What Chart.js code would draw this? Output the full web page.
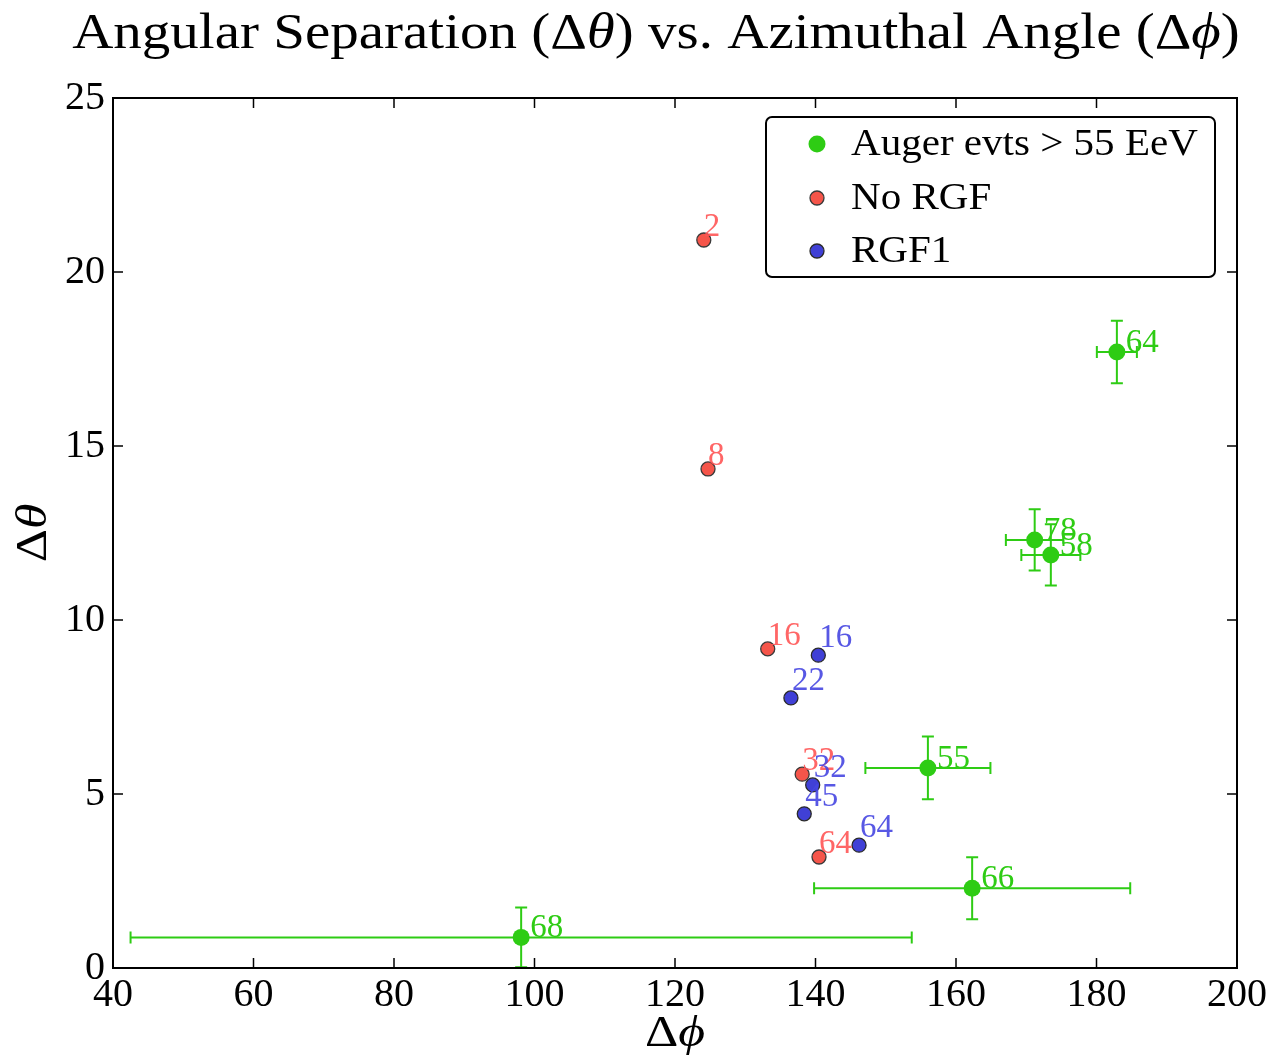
<!DOCTYPE html>
<html>
<head>
<meta charset="utf-8">
<title>Angular Separation vs. Azimuthal Angle</title>
<script src="https://cdn.jsdelivr.net/npm/chart.js@4.4.0/dist/chart.umd.min.js"></script>
<style>
  html, body { margin: 0; padding: 0; background: #fff; }
  canvas { display: block; }
</style>
</head>
<body>
<canvas id="sepChart" width="1270" height="1058"></canvas>
<script>
// Auger events above 55 EeV (with errors)
const augerPhi    = [182.9, 171.2, 173.5, 156.0, 162.3, 98.1];
const augerTheta  = [17.7, 12.3, 11.87, 5.75, 2.29, 0.88];
const augerPhiErr = [2.85, 4.1, 4.2, 8.9, 22.5, 55.6];
const augerThErr  = [0.9, 0.88, 0.88, 0.9, 0.89, 0.86];
const augerLabels = ['64', '78', '58', '55', '66', '68'];

// no regular galactic field
const noRgfPhi    = [124.1, 124.7, 133.2, 138.1, 140.5];
const noRgfTheta  = [20.92, 14.34, 9.17, 5.57, 3.19];
const noRgfLabels = ['2', '8', '16', '32', '64'];

// RGF1 model
const rgf1Phi    = [140.4, 136.5, 139.6, 138.4, 146.2];
const rgf1Theta  = [8.99, 7.76, 5.26, 4.43, 3.53];
const rgf1Labels = ['16', '22', '32', '45', '64'];

const xTicks = [40, 60, 80, 100, 120, 140, 160, 180, 200];
const yTicks = [0, 5, 10, 15, 20, 25];

const GREEN = '#2ecc14';
const RED = '#f5554a';
const BLUE = '#4040d6';
const SERIF = '"Liberation Serif", "DejaVu Serif", serif';

function toPoints(xs, ys) {
    return xs.map((x, i) => ({ x: x, y: ys[i] }));
}

// Liberation Serif is narrower than the TeX face, so widen text a little
function stretchText(ctx, text, x, y, sx) {
    ctx.save();
    ctx.translate(x, y);
    ctx.scale(sx, 1);
    ctx.fillText(text, 0, 0);
    ctx.restore();
}

// error bars for the Auger points, drawn below the markers
const errorBars = {
    id: 'errorBars',
    beforeDatasetsDraw(chart) {
        const ctx = chart.ctx;
        const xs = chart.scales.x, ys = chart.scales.y;
        const cap = 6;
        ctx.save();
        ctx.strokeStyle = GREEN;
        ctx.lineWidth = 2;
        augerPhi.forEach((phi, i) => {
            const px = xs.getPixelForValue(phi);
            const py = ys.getPixelForValue(augerTheta[i]);
            const x0 = xs.getPixelForValue(phi - augerPhiErr[i]);
            const x1 = xs.getPixelForValue(phi + augerPhiErr[i]);
            const y0 = ys.getPixelForValue(augerTheta[i] - augerThErr[i]);
            const y1 = ys.getPixelForValue(augerTheta[i] + augerThErr[i]);
            ctx.beginPath();
            ctx.moveTo(x0, py); ctx.lineTo(x1, py);
            ctx.moveTo(x0, py - cap); ctx.lineTo(x0, py + cap);
            ctx.moveTo(x1, py - cap); ctx.lineTo(x1, py + cap);
            ctx.moveTo(px, y0); ctx.lineTo(px, y1);
            ctx.moveTo(px - cap, y0); ctx.lineTo(px + cap, y0);
            ctx.moveTo(px - cap, y1); ctx.lineTo(px + cap, y1);
            ctx.stroke();
        });
        ctx.restore();
    }
};

// number labels next to each point
const pointLabels = {
    id: 'pointLabels',
    afterDatasetsDraw(chart) {
        const ctx = chart.ctx;
        const xs = chart.scales.x, ys = chart.scales.y;
        const sets = [
            { xs: augerPhi, ys: augerTheta, txt: augerLabels, color: GREEN, dx: 9, dy: 0 },
            { xs: noRgfPhi, ys: noRgfTheta, txt: noRgfLabels, color: 'rgba(255,85,85,0.9)', dx: 0, dy: -4 },
            { xs: rgf1Phi, ys: rgf1Theta, txt: rgf1Labels, color: 'rgba(70,70,225,0.9)', dx: 1, dy: -8 }
        ];
        ctx.save();
        ctx.font = '33px ' + SERIF;
        ctx.textAlign = 'left';
        ctx.textBaseline = 'alphabetic';
        sets.forEach(s => {
            ctx.fillStyle = s.color;
            s.xs.forEach((v, i) => {
                ctx.fillText(s.txt[i], xs.getPixelForValue(v) + s.dx, ys.getPixelForValue(s.ys[i]) + s.dy);
            });
        });
        ctx.restore();
    }
};

// frame, inward ticks, titles and legend box
const frameAndText = {
    id: 'frameAndText',
    afterDraw(chart) {
        const ctx = chart.ctx;
        const a = chart.chartArea;
        const xs = chart.scales.x, ys = chart.scales.y;
        ctx.save();
        ctx.strokeStyle = '#000';
        ctx.lineWidth = 2;
        ctx.strokeRect(a.left, a.top, a.right - a.left, a.bottom - a.top);

        ctx.lineWidth = 1.5;
        const tl = 10;
        ctx.beginPath();
        xTicks.forEach(v => {
            const p = xs.getPixelForValue(v);
            ctx.moveTo(p, a.bottom); ctx.lineTo(p, a.bottom - tl);
            ctx.moveTo(p, a.top); ctx.lineTo(p, a.top + tl);
        });
        yTicks.forEach(v => {
            const p = ys.getPixelForValue(v);
            ctx.moveTo(a.left, p); ctx.lineTo(a.left + tl, p);
            ctx.moveTo(a.right, p); ctx.lineTo(a.right - tl, p);
        });
        ctx.stroke();

        ctx.fillStyle = '#000';
        ctx.textBaseline = 'alphabetic';
        ctx.textAlign = 'left';

        // title with italic greek letters
        const parts = [
            ['Angular Separation (\u0394', false],
            ['\u03b8', true],
            [') vs. Azimuthal Angle (\u0394', false],
            ['\u03d5', true],
            [')', false]
        ];
        const size = 50, sx = 1.14;
        let total = 0;
        parts.forEach(p => {
            ctx.font = (p[1] ? 'italic ' : '') + size + 'px ' + SERIF;
            total += ctx.measureText(p[0]).width * sx;
        });
        let tx = 656 - total / 2;
        parts.forEach(p => {
            ctx.font = (p[1] ? 'italic ' : '') + size + 'px ' + SERIF;
            stretchText(ctx, p[0], tx, 48, sx);
            tx += ctx.measureText(p[0]).width * sx;
        });

        // axis titles
        drawDelta(ctx, '\u03d5', (a.left + a.right) / 2, 1046, 0);
        drawDelta(ctx, '\u03b8', 46, (a.top + a.bottom) / 2, -Math.PI / 2);

        // legend
        const lx = 766, ly = 117, lw = 449, lh = 160;
        ctx.beginPath();
        ctx.roundRect(lx, ly, lw, lh, 6);
        ctx.fillStyle = '#fff';
        ctx.fill();
        ctx.lineWidth = 2;
        ctx.strokeStyle = '#000';
        ctx.stroke();
        const rowsY = [144, 198, 251];
        chart.data.datasets.forEach((ds, i) => {
            ctx.beginPath();
            ctx.arc(817, rowsY[i], ds.pointRadius, 0, Math.PI * 2);
            ctx.fillStyle = ds.backgroundColor;
            ctx.fill();
            if (ds.borderColor !== ds.backgroundColor) {
                ctx.lineWidth = ds.borderWidth;
                ctx.strokeStyle = ds.borderColor;
                ctx.stroke();
            }
            ctx.fillStyle = '#000';
            ctx.font = '38px ' + SERIF;
            ctx.textBaseline = 'middle';
            stretchText(ctx, ds.label, 851, rowsY[i] + 1, 1.08);
        });
        ctx.restore();
    }
};

function drawDelta(ctx, greek, x, y, rot) {
    const sx = 1.15;
    ctx.save();
    ctx.translate(x, y);
    ctx.rotate(rot);
    ctx.scale(sx, 1);
    ctx.font = '45px ' + SERIF;
    const w1 = ctx.measureText('\u0394').width;
    ctx.font = 'italic 45px ' + SERIF;
    const w2 = ctx.measureText(greek).width;
    const start = -(w1 + w2) / 2;
    ctx.textAlign = 'left';
    ctx.textBaseline = 'alphabetic';
    ctx.fillStyle = '#000';
    ctx.font = '45px ' + SERIF;
    ctx.fillText('\u0394', start, 0);
    ctx.font = 'italic 45px ' + SERIF;
    ctx.fillText(greek, start + w1, 0);
    ctx.restore();
}

const tickFont = { family: SERIF, size: 40 };

new Chart(document.getElementById('sepChart'), {
    type: 'scatter',
    data: {
        datasets: [
            {
                label: 'Auger evts > 55 EeV',
                data: toPoints(augerPhi, augerTheta),
                backgroundColor: GREEN,
                borderColor: GREEN,
                borderWidth: 0,
                pointRadius: 8.5
            },
            {
                label: 'No RGF',
                data: toPoints(noRgfPhi, noRgfTheta),
                backgroundColor: RED,
                borderColor: '#3a3a3a',
                borderWidth: 1.3,
                pointRadius: 7
            },
            {
                label: 'RGF1',
                data: toPoints(rgf1Phi, rgf1Theta),
                backgroundColor: BLUE,
                borderColor: '#2a2a2a',
                borderWidth: 1.3,
                pointRadius: 7
            }
        ]
    },
    options: {
        responsive: false,
        animation: false,
        devicePixelRatio: 1,
        layout: { padding: { top: 98, right: 33, bottom: 0, left: 0 } },
        plugins: {
            legend: { display: false },
            title: { display: false },
            tooltip: { enabled: false }
        },
        scales: {
            x: {
                type: 'linear',
                min: 40,
                max: 200,
                afterBuildTicks: s => { s.ticks = xTicks.map(v => ({ value: v })); },
                ticks: { font: tickFont, color: '#000', padding: 3, maxRotation: 0 },
                grid: { display: false, drawTicks: false },
                border: { display: false },
                afterFit: s => { s.height = 90; }
            },
            y: {
                type: 'linear',
                min: 0,
                max: 25,
                afterBuildTicks: s => { s.ticks = yTicks.map(v => ({ value: v })); },
                ticks: { font: tickFont, color: '#000', padding: 8 },
                grid: { display: false, drawTicks: false },
                border: { display: false },
                afterFit: s => { s.width = 113; }
            }
        }
    },
    plugins: [errorBars, pointLabels, frameAndText]
});
</script>
</body>
</html>
